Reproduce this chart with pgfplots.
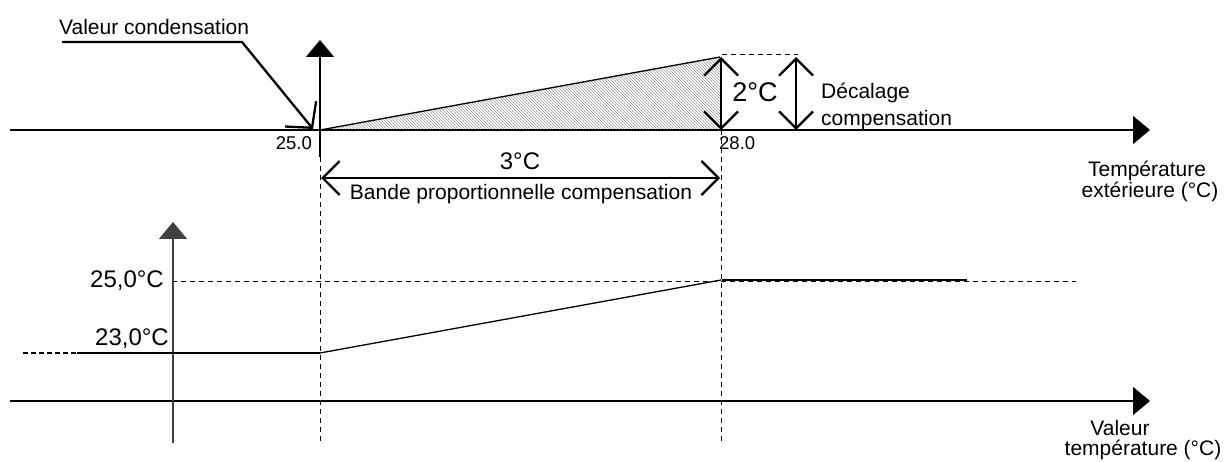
\documentclass[border=0pt]{standalone}
\usepackage{pgfplots}
\pgfplotsset{compat=1.18}
\usepackage{fontspec}
\setmainfont{Liberation Sans}
\usetikzlibrary{arrows.meta,patterns}
\tikzset{
  bigtri/.style={-{Triangle[length=17pt,width=28pt]}},
  barb/.tip={Straight Barb[length=17pt,width=34pt]},
}
\begin{document}
\begin{tikzpicture}
\begin{axis}[width=1225pt,height=462pt,scale only axis,
  xmin=0,xmax=1225,ymin=0,ymax=462,y dir=reverse,
  axis lines=none,clip=false]
\draw[draw=none] (axis cs:0,0) rectangle (axis cs:1225,462);
% hatched triangle
\addplot[draw=none,pattern=north west lines,pattern color=gray!80] coordinates {(320,130)(720,57)(720,130)(320,130)};
\addplot[black,line width=1.3pt] coordinates {(320,130)(720,57)};
% top axes
\addplot[black,line width=1.3pt,bigtri] coordinates {(10,130)(1150,130)};
\addplot[black,line width=1.3pt,bigtri] coordinates {(320,157)(320,40)};
% vertical dashed
\addplot[black,line width=1pt,dash pattern=on 5pt off 4pt] coordinates {(320,130)(320,443)};
\addplot[black,line width=1pt,dash pattern=on 5pt off 4pt] coordinates {(721,130)(721,443)};
\addplot[black,line width=1pt,dash pattern=on 5pt off 4pt] coordinates {(722,55)(798,55)};
% double arrows
\addplot[black,line width=2.3pt,barb-barb] coordinates {(721,57)(721,130)};
\addplot[black,line width=2.3pt,barb-barb] coordinates {(796,57)(796,130)};
\addplot[black,line width=2.3pt,barb-barb] coordinates {(321,178)(720,178)};
% callout
\addplot[black,line width=2.3pt,-{Straight Barb[length=18pt,width=40pt]}] coordinates {(62,42)(242,42)(313,129)};
% bottom axes
\addplot[black,line width=1.3pt,bigtri] coordinates {(10,401)(1150,401)};
\addplot[black!75,line width=1.3pt,bigtri] coordinates {(173,443)(173,222)};
\addplot[black,line width=1pt,dash pattern=on 5pt off 4pt] coordinates {(172,281)(1076,281)};
\addplot[black,line width=2.5pt,dash pattern=on 5pt off 3pt] coordinates {(23,353)(78,353)};
\addplot[black,line width=2.5pt] coordinates {(77,353)(320,353)};
\addplot[black,line width=1.3pt] coordinates {(320,353)(721,280)};
\addplot[black,line width=2.5pt] coordinates {(722,280)(967,280)};
% texts
\node[anchor=west,inner sep=0pt,font=\fontsize{21}{24}\selectfont] at (axis cs:59,27) {Valeur condensation};
\node[anchor=east,inner sep=0pt,font=\fontsize{18.5}{22}\selectfont] at (axis cs:312,143) {25.0};
\node[anchor=west,inner sep=0pt,font=\fontsize{18.5}{22}\selectfont] at (axis cs:719,143) {28.0};
\node[anchor=center,inner sep=0pt,font=\fontsize{27}{30}\selectfont] at (axis cs:755,92) {2°C};
\node[anchor=center,inner sep=0pt,font=\fontsize{24}{28}\selectfont] at (axis cs:520,161) {3°C};
\node[anchor=center,inner sep=0pt,font=\fontsize{21}{24}\selectfont] at (axis cs:521,194) {Bande proportionnelle compensation};
\node[anchor=west,inner sep=0pt,font=\fontsize{21}{24}\selectfont] at (axis cs:821,93) {Décalage};
\node[anchor=west,inner sep=0pt,font=\fontsize{21}{24}\selectfont] at (axis cs:821,120) {compensation};
\node[anchor=center,inner sep=0pt,font=\fontsize{21}{24}\selectfont] at (axis cs:1147,171) {Température};
\node[anchor=center,inner sep=0pt,font=\fontsize{21}{24}\selectfont] at (axis cs:1150,192) {extérieure (°C)};
\node[anchor=east,inner sep=0pt,font=\fontsize{24}{28}\selectfont] at (axis cs:164,281) {25,0°C};
\node[anchor=east,inner sep=0pt,font=\fontsize{24}{28}\selectfont] at (axis cs:169,339) {23,0°C};
\node[anchor=center,inner sep=0pt,font=\fontsize{21}{24}\selectfont] at (axis cs:1120,428) {Valeur};
\node[anchor=center,inner sep=0pt,font=\fontsize{21}{24}\selectfont] at (axis cs:1143,450) {température (°C)};
\end{axis}
\end{tikzpicture}
\end{document}
